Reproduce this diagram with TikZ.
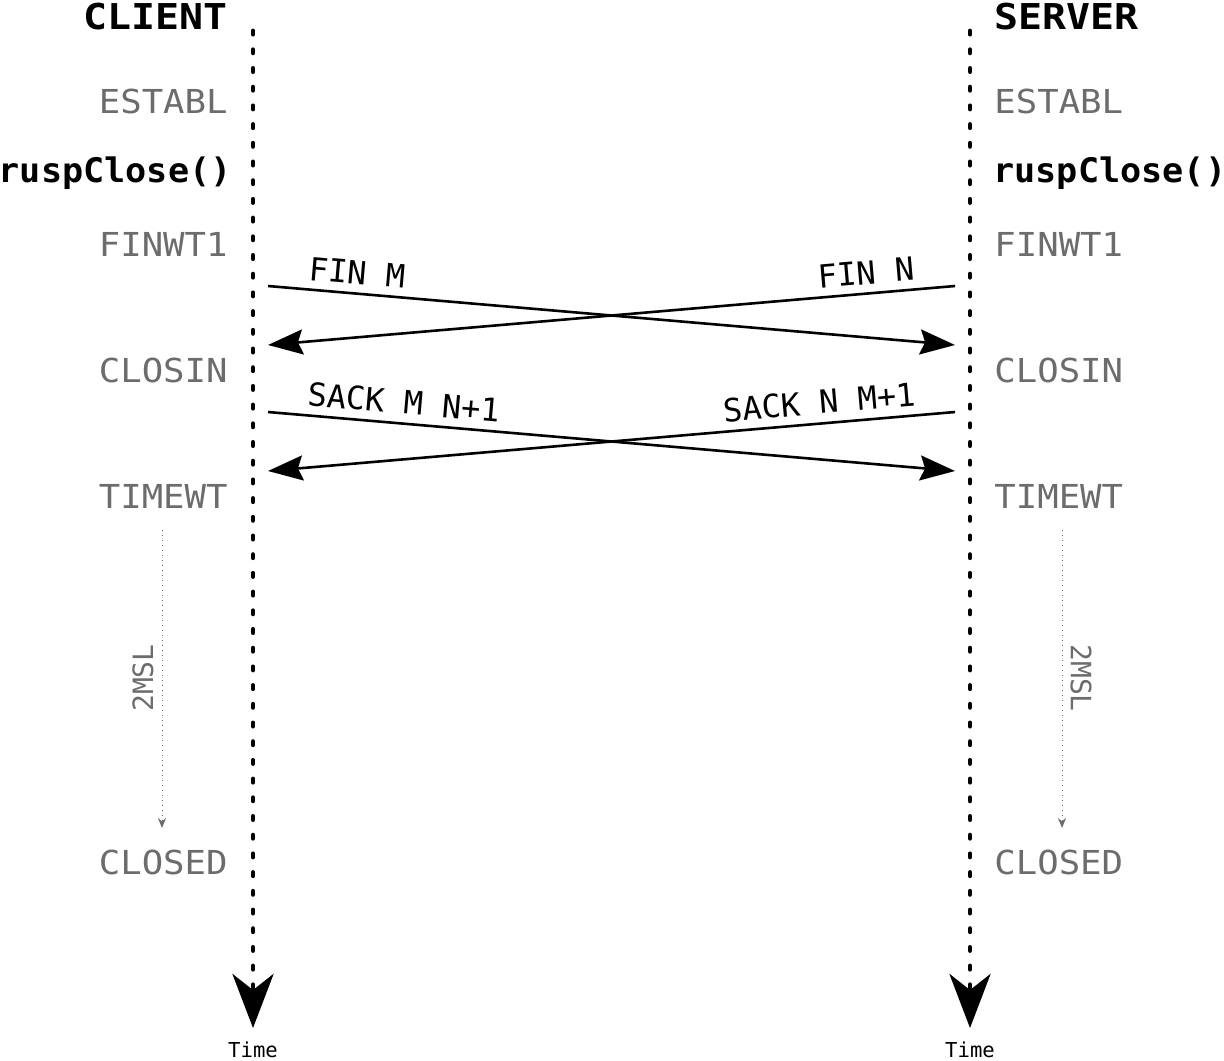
\documentclass[tikz,border=0pt]{standalone}
\usepackage{fontspec}
\setmainfont{DejaVu Sans Mono}
\newfontfamily\widemono[FakeStretch=1.08]{DejaVu Sans Mono}
\newfontfamily\widebold[FakeStretch=1.12]{DejaVu Sans Mono Bold}
\newfontfamily\callbold[FakeStretch=1.04]{DejaVu Sans Mono Bold}
\usetikzlibrary{arrows.meta}
\definecolor{stategray}{RGB}{108,108,108}

\begin{document}
\begin{tikzpicture}[x=0.5pt,y=-0.5pt,
  lifeline/.style={line width=2.4pt,line cap=round,dash pattern=on 1.6pt off 7.75pt,
    -{Stealth[length=27pt,width=20.5pt,inset=8pt]}},
  msg/.style={line width=1.3pt,-{Stealth[length=17.5pt,width=12.5pt,inset=2.5pt]}},
  msgback/.style={line width=1.3pt,{Stealth[length=17.5pt,width=12.5pt,inset=2.5pt]}-},
  timer/.style={stategray,line width=0.5pt,dotted,-{Stealth[length=5pt,width=4pt]}},
  party/.style={font=\fontsize{17.8}{17.8}\widebold,inner sep=0pt},
  call/.style={font=\fontsize{16.9}{16.9}\callbold,inner sep=0pt},
  state/.style={font=\fontsize{16.5}{16.5}\widemono,text=stategray,inner sep=0pt},
  msglabel/.style={font=\fontsize{16}{16}\selectfont,inner sep=0pt,sloped,above=4pt},
  timerlabel/.style={font=\fontsize{14}{14}\selectfont,text=stategray,inner sep=0pt},
  timelabel/.style={font=\fontsize{10.3}{10.3}\selectfont,inner sep=0pt}]
\useasboundingbox (0,0) rectangle (1224,1060);

% client side
\node[party,anchor=base east] (client) at (228,29) {CLIENT};
\node[state,anchor=base east] (cestabl) at (228,113) {ESTABL};
\node[call,anchor=base east] (cclose) at (232,182) {ruspClose()};
\node[state,anchor=base east] (cfinwt) at (228,256) {FINWT1};
\node[state,anchor=base east] (cclosin) at (228,382) {CLOSIN};
\node[state,anchor=base east] (ctimewt) at (228,508) {TIMEWT};
\node[state,anchor=base east] (cclosed) at (228,874) {CLOSED};

% server side
\node[party,anchor=base west] (server) at (994,29) {SERVER};
\node[state,anchor=base west] (sestabl) at (994,113) {ESTABL};
\node[call,anchor=base west] (sclose) at (993,182) {ruspClose()};
\node[state,anchor=base west] (sfinwt) at (994,256) {FINWT1};
\node[state,anchor=base west] (sclosin) at (994,382) {CLOSIN};
\node[state,anchor=base west] (stimewt) at (994,508) {TIMEWT};
\node[state,anchor=base west] (sclosed) at (994,874) {CLOSED};

% lifelines
\coordinate (ctop) at (253,31);
\coordinate (cend) at (253,1028);
\coordinate (stop) at (970,31);
\coordinate (send) at (970,1028);
\draw[lifeline] (ctop) -- (cend);
\draw[lifeline] (stop) -- (send);
\node[timelabel] (ctime) at (253,1050) {Time};
\node[timelabel] (stime) at (970,1050) {Time};

% messages
\coordinate (cfin) at (268,286);
\coordinate (cfinin) at (268,345);
\coordinate (csack) at (268,412);
\coordinate (csackin) at (268,471);
\coordinate (sfin) at (955,286);
\coordinate (sfinin) at (955,345);
\coordinate (ssack) at (955,412);
\coordinate (ssackin) at (955,471);
\draw[msg] (cfin) -- node[msglabel,pos=0.127] {FIN M} (sfinin);
\draw[msgback] (cfinin) -- node[msglabel,pos=0.873] {FIN N} (sfin);
\draw[msg] (csack) -- node[msglabel,pos=0.195] {SACK M N+1} (ssackin);
\draw[msgback] (csackin) -- node[msglabel,pos=0.805] {SACK N M+1} (ssack);

% 2MSL timers
\coordinate (ctimer) at (162,530);
\coordinate (ctimerend) at (162,828);
\coordinate (stimer) at (1062,530);
\coordinate (stimerend) at (1062,828);
\draw[timer] (ctimer) -- (ctimerend);
\draw[timer] (stimer) -- (stimerend);
\node[timerlabel,rotate=90] (cmsl) at (143,678) {2MSL};
\node[timerlabel,rotate=-90] (smsl) at (1081,678) {2MSL};
\end{tikzpicture}
\end{document}
